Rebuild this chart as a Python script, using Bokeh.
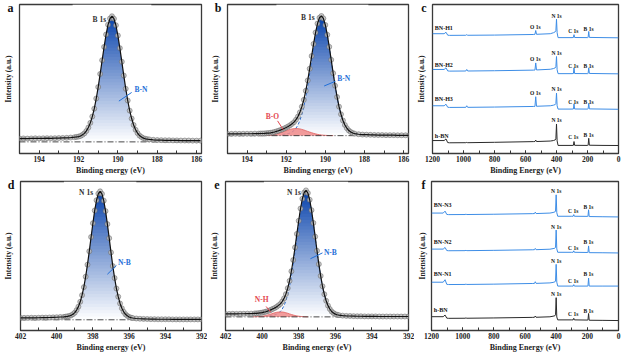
from bokeh.plotting import figure
from bokeh.layouts import row, column
from bokeh.models import Range1d, SingleIntervalTicker, FixedTicker, CustomJSTickFormatter
from bokeh.embed import file_html
from bokeh.resources import INLINE
from bokeh.core.properties import value

FONT = "Liberation Serif"

# ---------------- panel a : B 1s (single B-N component) ----------------
a_pts = [(195.0, 0.027), (194.8, 0.028), (194.6, 0.027), (194.4, 0.028), (194.2, 0.029),
         (194.0, 0.028), (193.8, 0.029), (193.6, 0.030), (193.4, 0.029), (193.2, 0.030),
         (193.0, 0.031), (192.8, 0.032), (192.6, 0.033), (192.4, 0.035), (192.2, 0.038),
         (192.1, 0.040), (192.0, 0.043), (191.9, 0.048), (191.8, 0.057), (191.7, 0.069),
         (191.6, 0.089), (191.5, 0.116), (191.4, 0.154), (191.3, 0.205), (191.2, 0.269),
         (191.1, 0.351), (191.0, 0.444), (190.9, 0.550), (190.8, 0.661), (190.7, 0.769),
         (190.6, 0.869), (190.5, 0.949), (190.4, 0.999), (190.3, 1.017), (190.2, 0.997),
         (190.1, 0.944), (190.0, 0.861), (189.9, 0.759), (189.8, 0.649), (189.7, 0.537),
         (189.6, 0.430), (189.5, 0.335), (189.4, 0.253), (189.3, 0.189), (189.2, 0.137),
         (189.1, 0.098), (189.0, 0.071), (188.9, 0.051), (188.8, 0.039), (188.7, 0.030),
         (188.6, 0.025), (188.5, 0.022), (188.4, 0.020), (188.2, 0.017), (188.0, 0.015),
         (187.8, 0.014), (187.6, 0.013), (187.4, 0.013), (187.2, 0.012), (187.0, 0.012),
         (186.8, 0.011), (186.6, 0.011), (186.4, 0.011), (186.2, 0.010), (186.0, 0.010),
         (185.8, 0.010)]
a_fill_span = (192.0, 188.6)

# ---------------- panel b : B 1s (B-N + B-O) ----------------
b_pts = [(195.0, 0.015), (194.8, 0.015), (194.6, 0.016), (194.4, 0.015), (194.2, 0.016),
         (194.0, 0.016), (193.8, 0.016), (193.6, 0.017), (193.4, 0.017), (193.3, 0.018),
         (193.2, 0.018), (193.1, 0.019), (193.0, 0.021), (192.9, 0.022), (192.8, 0.024),
         (192.7, 0.027), (192.6, 0.031), (192.5, 0.036), (192.4, 0.041), (192.3, 0.047),
         (192.2, 0.053), (192.1, 0.061), (192.0, 0.069), (191.9, 0.078), (191.8, 0.088),
         (191.7, 0.100), (191.6, 0.114), (191.5, 0.135), (191.4, 0.161), (191.3, 0.197),
         (191.2, 0.245), (191.1, 0.303), (191.0, 0.379), (190.9, 0.467), (190.8, 0.566),
         (190.7, 0.673), (190.6, 0.776), (190.5, 0.872), (190.4, 0.948), (190.3, 0.997),
         (190.2, 1.012), (190.1, 0.991), (190.0, 0.936), (189.9, 0.853), (189.8, 0.751),
         (189.7, 0.641), (189.6, 0.528), (189.5, 0.422), (189.4, 0.327), (189.3, 0.245),
         (189.2, 0.181), (189.1, 0.128), (189.0, 0.090), (188.9, 0.063), (188.8, 0.043),
         (188.7, 0.031), (188.6, 0.022), (188.5, 0.017), (188.3, 0.012), (188.1, 0.009),
         (187.9, 0.008), (187.7, 0.007), (187.5, 0.006), (187.3, 0.005), (187.1, 0.005),
         (186.9, 0.004), (186.7, 0.004), (186.5, 0.004), (186.3, 0.003), (186.1, 0.003),
         (185.9, 0.003), (185.7, 0.003)]
b_bn = [(192.2, 0.010), (192.1, 0.012), (192.0, 0.014), (191.9, 0.017), (191.8, 0.022),
        (191.7, 0.031), (191.6, 0.043), (191.5, 0.063), (191.4, 0.090), (191.3, 0.128),
        (191.2, 0.180), (191.1, 0.244), (191.0, 0.326), (190.9, 0.420), (190.8, 0.526),
        (190.7, 0.638), (190.6, 0.747), (190.5, 0.848), (190.4, 0.929), (190.3, 0.981),
        (190.2, 1.000), (190.1, 0.981), (190.0, 0.929), (189.9, 0.848), (189.8, 0.747),
        (189.7, 0.638), (189.6, 0.526), (189.5, 0.420), (189.4, 0.326), (189.3, 0.244),
        (189.2, 0.180), (189.1, 0.128), (189.0, 0.090), (188.9, 0.063), (188.8, 0.043),
        (188.7, 0.031), (188.6, 0.022), (188.5, 0.017), (188.3, 0.012), (188.1, 0.009)]
b_bo = [(193.4, 0.0004), (193.3, 0.0007), (193.2, 0.001), (193.1, 0.0017), (193.0, 0.0026),
        (192.9, 0.004), (192.8, 0.0057), (192.7, 0.008), (192.6, 0.011), (192.5, 0.015),
        (192.4, 0.0195), (192.3, 0.025), (192.2, 0.030), (192.1, 0.036), (192.0, 0.042),
        (191.9, 0.048), (191.8, 0.053), (191.7, 0.057), (191.6, 0.059), (191.5, 0.060),
        (191.4, 0.059), (191.3, 0.057), (191.2, 0.053), (191.1, 0.048), (191.0, 0.042),
        (190.9, 0.036), (190.8, 0.030), (190.7, 0.025), (190.6, 0.0195), (190.5, 0.015),
        (190.4, 0.011), (190.3, 0.008), (190.2, 0.0057), (190.1, 0.004), (190.0, 0.0026),
        (189.9, 0.0017), (189.8, 0.001), (189.7, 0.0007), (189.6, 0.0004)]

# ---------------- panel d : N 1s (single N-B component) ----------------
d_pts = [(402.0, 0.015), (401.8, 0.015), (401.6, 0.015), (401.4, 0.016), (401.2, 0.015),
         (401.0, 0.016), (400.8, 0.017), (400.6, 0.017), (400.4, 0.018), (400.2, 0.019),
         (400.0, 0.020), (399.8, 0.022), (399.6, 0.023), (399.5, 0.025), (399.4, 0.027),
         (399.3, 0.030), (399.2, 0.035), (399.1, 0.044), (399.0, 0.056), (398.9, 0.076),
         (398.8, 0.103), (398.7, 0.141), (398.6, 0.193), (398.5, 0.256), (398.4, 0.338),
         (398.3, 0.432), (398.2, 0.537), (398.1, 0.649), (398.0, 0.757), (397.9, 0.857),
         (397.8, 0.937), (397.7, 0.989), (397.6, 1.007), (397.5, 0.987), (397.4, 0.934),
         (397.3, 0.852), (397.2, 0.750), (397.1, 0.640), (397.0, 0.528), (396.9, 0.421),
         (396.8, 0.327), (396.7, 0.245), (396.6, 0.181), (396.5, 0.128), (396.4, 0.090),
         (396.3, 0.063), (396.2, 0.043), (396.1, 0.031), (396.0, 0.022), (395.9, 0.017),
         (395.8, 0.014), (395.6, 0.010), (395.4, 0.008), (395.2, 0.007), (395.0, 0.006),
         (394.8, 0.005), (394.6, 0.005), (394.4, 0.004), (394.2, 0.004), (394.0, 0.004),
         (393.8, 0.004), (393.6, 0.003), (393.4, 0.003), (393.2, 0.003), (393.0, 0.003),
         (392.8, 0.003), (392.6, 0.003), (392.4, 0.003), (392.2, 0.003), (392.0, 0.003)]
d_fill_span = (399.3, 395.9)

# ---------------- panel e : N 1s (N-B + N-H) ----------------
e_pts = [(402.0, 0.024), (401.8, 0.024), (401.6, 0.025), (401.4, 0.024), (401.2, 0.025),
         (401.0, 0.025), (400.8, 0.026), (400.6, 0.026), (400.4, 0.028), (400.3, 0.028),
         (400.2, 0.030), (400.1, 0.032), (400.0, 0.034), (399.9, 0.038), (399.8, 0.041),
         (399.7, 0.046), (399.6, 0.051), (399.5, 0.058), (399.4, 0.065), (399.3, 0.072),
         (399.2, 0.081), (399.1, 0.092), (399.0, 0.104), (398.9, 0.123), (398.8, 0.148),
         (398.7, 0.182), (398.6, 0.230), (398.5, 0.288), (398.4, 0.365), (398.3, 0.455),
         (398.2, 0.556), (398.1, 0.664), (398.0, 0.769), (397.9, 0.867), (397.8, 0.945),
         (397.7, 0.995), (397.6, 1.012), (397.5, 0.991), (397.4, 0.937), (397.3, 0.854),
         (397.2, 0.752), (397.1, 0.642), (397.0, 0.529), (396.9, 0.422), (396.8, 0.328),
         (396.7, 0.245), (396.6, 0.181), (396.5, 0.129), (396.4, 0.090), (396.3, 0.063),
         (396.2, 0.043), (396.1, 0.031), (396.0, 0.022), (395.9, 0.017), (395.8, 0.014),
         (395.6, 0.010), (395.4, 0.008), (395.2, 0.007), (395.0, 0.006), (394.8, 0.005),
         (394.6, 0.005), (394.4, 0.004), (394.2, 0.004), (394.0, 0.004), (393.8, 0.004),
         (393.6, 0.003), (393.4, 0.003), (393.2, 0.003), (393.0, 0.003), (392.8, 0.003),
         (392.6, 0.003), (392.4, 0.003), (392.2, 0.003), (392.0, 0.003)]
e_nb = [(399.6, 0.010), (399.5, 0.012), (399.4, 0.014), (399.3, 0.017), (399.2, 0.022),
        (399.1, 0.031), (399.0, 0.043), (398.9, 0.063), (398.8, 0.090), (398.7, 0.128),
        (398.6, 0.180), (398.5, 0.244), (398.4, 0.326), (398.3, 0.420), (398.2, 0.526),
        (398.1, 0.638), (398.0, 0.747), (397.9, 0.848), (397.8, 0.929), (397.7, 0.981),
        (397.6, 1.000), (397.5, 0.981), (397.4, 0.929), (397.3, 0.848), (397.2, 0.747),
        (397.1, 0.638), (397.0, 0.526), (396.9, 0.420), (396.8, 0.326), (396.7, 0.244),
        (396.6, 0.180), (396.5, 0.128), (396.4, 0.090), (396.3, 0.063), (396.2, 0.043),
        (396.1, 0.031), (396.0, 0.022), (395.9, 0.017), (395.8, 0.014), (395.6, 0.010)]
e_nh = [(400.5, 0.0004), (400.4, 0.0008), (400.3, 0.0014), (400.2, 0.0022), (400.1, 0.0036),
        (400.0, 0.0054), (399.9, 0.008), (399.8, 0.011), (399.7, 0.015), (399.6, 0.019),
        (399.5, 0.024), (399.4, 0.029), (399.3, 0.033), (399.2, 0.037), (399.1, 0.039),
        (399.0, 0.040), (398.9, 0.039), (398.8, 0.037), (398.7, 0.033), (398.6, 0.029),
        (398.5, 0.024), (398.4, 0.019), (398.3, 0.015), (398.2, 0.011), (398.1, 0.008),
        (398.0, 0.0054), (397.9, 0.0036), (397.8, 0.0022), (397.7, 0.0014), (397.6, 0.0008),
        (397.5, 0.0004)]

# ---------------- survey spectra (panels c and f) ----------------
survey_x = [1200, 1125, 1113, 1102, 1090, 985, 979, 973, 800, 550, 539, 534, 529, 440, 420,
            408, 404, 400, 396, 390, 300, 291, 287, 283, 200, 196, 192, 188, 100, 0]
c_names = ["BN-H1", "BN-H2", "BN-H3", "h-BN"]
c_bnh1 = [123.0, 123.0, 124.5, 121.5, 121.3, 121.4, 122.0, 121.4, 121.6, 122.2, 122.4, 126.3,
          122.4, 123.0, 124.0, 125.0, 126.0, 138.0, 124.0, 119.0, 119.0, 119.1, 122.0, 119.1,
          119.0, 119.2, 125.3, 119.2, 119.0, 118.8]
c_bnh2 = [86.3, 86.3, 88.0, 84.8, 84.6, 84.7, 86.3, 84.7, 85.0, 85.6, 85.7, 93.0, 85.8, 86.5,
          87.2, 88.0, 89.0, 99.6, 86.0, 82.0, 82.0, 82.1, 88.0, 82.1, 82.0, 82.2, 88.0, 82.2,
          82.0, 81.8]
c_bnh3 = [49.0, 49.0, 50.6, 47.5, 47.3, 47.4, 49.0, 47.4, 47.7, 48.3, 48.4, 58.3, 48.5, 49.0,
          49.6, 50.3, 51.2, 62.0, 49.0, 45.6, 45.6, 45.7, 51.0, 45.7, 45.6, 45.8, 51.6, 45.8,
          45.6, 45.4]
c_hbn = [13.3, 13.3, 15.0, 11.2, 11.0, 11.1, 11.4, 11.1, 11.5, 12.2, 12.3, 13.8, 12.3, 12.8,
         13.3, 14.0, 15.0, 30.3, 13.0, 8.3, 8.3, 8.4, 12.3, 8.4, 8.3, 8.5, 15.6, 8.5, 8.3, 8.2]
c_name_y = [128.6, 91.3, 55.6, 18.3]
c_peak_text = ["O 1s"] * 3 + ["N 1s"] * 4 + ["C 1s"] * 4 + ["B 1s"] * 4
c_peak_x = [537] * 3 + [400] * 4 + [291] * 4 + [193] * 4
c_peak_y = [130.3, 97.0, 62.3, 141.5, 103.0, 66.5, 34.0, 126.3, 90.3, 53.3, 16.6,
            128.0, 90.3, 53.3, 19.0]

f_names = ["BN-N3", "BN-N2", "BN-N1", "h-BN"]
f_bnn3 = [121.6, 121.6, 123.6, 120.2, 120.0, 120.1, 120.4, 120.1, 120.4, 121.0, 121.1, 122.6,
          121.1, 121.6, 122.2, 122.8, 123.6, 140.5, 122.0, 118.3, 118.3, 118.3, 120.0, 118.3,
          118.2, 118.2, 125.0, 118.0, 117.8, 117.6]
f_bnn2 = [84.3, 84.3, 86.0, 82.8, 82.6, 82.7, 83.0, 82.7, 83.0, 83.6, 83.7, 85.0, 83.7, 84.2,
          84.8, 85.3, 86.0, 104.0, 84.5, 81.0, 81.0, 81.0, 82.5, 81.0, 80.8, 80.8, 87.6, 80.6,
          80.5, 80.3]
f_bnn1 = [50.0, 50.0, 52.6, 47.8, 47.6, 47.7, 48.0, 47.7, 48.0, 48.7, 48.8, 50.5, 48.8, 49.3,
          49.8, 50.4, 51.2, 68.5, 50.0, 46.0, 46.0, 46.0, 47.5, 46.0, 46.0, 46.0, 54.3, 46.0,
          46.0, 46.0]
f_hbn = [14.3, 14.3, 16.0, 12.8, 12.6, 12.7, 13.0, 12.7, 13.0, 13.6, 13.7, 15.0, 13.7, 14.2,
         14.8, 15.3, 16.2, 34.0, 14.0, 11.0, 11.0, 11.0, 12.6, 11.0, 10.8, 10.8, 17.6, 10.6,
         10.5, 10.3]
f_name_y = [130.0, 92.0, 58.3, 21.0]
f_peak_text = ["N 1s"] * 4 + ["C 1s"] * 4 + ["B 1s"] * 4
f_peak_x = [400] * 4 + [291] * 4 + [193] * 4
f_peak_y = [144.0, 107.5, 72.0, 37.5, 124.0, 85.6, 51.3, 17.3, 128.0, 91.3, 58.0, 20.6]

# ---------------- styles ----------------
BLUE_TOP = (10, 68, 172)
LINE_BLUE = "#3d8de6"
LINE_BLACK = "#2a2a2a"
LABEL_BLUE = "#1f6fd8"
LABEL_RED = "#e4474f"
H = 177
TOP = 4
BOTTOM = 24
FRAME_H = H - TOP - BOTTOM


def make_fig(xr, yr, width, left, right, xlabel, interval, letter):
    p = figure(width=width, height=H, x_range=Range1d(*xr), y_range=Range1d(*yr),
               output_backend="svg", toolbar_location=None, tools="",
               min_border_left=left, min_border_right=right,
               min_border_top=TOP, min_border_bottom=BOTTOM)
    p.xgrid.visible = False
    p.ygrid.visible = False
    p.outline_line_color = "#3a3a3a"
    p.outline_line_width = 1.3
    p.background_fill_color = "white"
    p.border_fill_color = "white"
    xa = p.xaxis[0]
    xa.ticker = SingleIntervalTicker(interval=interval, num_minor_ticks=2)
    xa.axis_line_color = None
    xa.major_tick_in = 3
    xa.major_tick_out = 0
    xa.minor_tick_in = 3
    xa.minor_tick_out = 0
    xa.major_tick_line_color = "#333333"
    xa.minor_tick_line_color = "#333333"
    xa.major_label_text_font = FONT
    xa.major_label_text_font_style = "bold"
    xa.major_label_text_font_size = "7.5px"
    xa.major_label_text_color = "#222222"
    xa.major_label_standoff = 2
    xa.axis_label = xlabel
    xa.axis_label_text_font = FONT
    xa.axis_label_text_font_style = "bold"
    xa.axis_label_text_font_size = "8px"
    xa.axis_label_text_color = "#222222"
    xa.axis_label_standoff = 1
    # y axis: no ticks; its single "tick label" near the top is the panel letter
    ya = p.yaxis[0]
    letter_y = yr[1] - 3.0 / FRAME_H * (yr[1] - yr[0])
    ya.ticker = FixedTicker(ticks=[letter_y])
    ya.formatter = CustomJSTickFormatter(code="return %r;" % letter)
    ya.axis_line_color = None
    ya.major_tick_line_color = None
    ya.minor_tick_line_color = None
    ya.major_tick_in = 0
    ya.major_tick_out = 0
    ya.major_label_standoff = 6
    ya.major_label_text_font = FONT
    ya.major_label_text_font_style = "bold"
    ya.major_label_text_font_size = "12px"
    ya.major_label_text_color = "#111111"
    ya.axis_label = "Intensity (a.u.)"
    ya.axis_label_text_font = FONT
    ya.axis_label_text_font_style = "bold"
    ya.axis_label_text_font_size = "7.5px"
    ya.axis_label_text_color = "#222222"
    ya.axis_label_standoff = -8
    return p


def split(pts):
    return [q[0] for q in pts], [q[1] for q in pts]


def gradient_fill(p, xs, ys, ytop, n=40):
    # vertical white -> blue gradient under the curve: stacked colour bands,
    # then a white mask above the curve (mask reaches a little past the band edges)
    ymax = max(ys)
    L, R, B, T, C = [], [], [], [], []
    step = ymax / n
    for k in range(n):
        f = (k + 0.5) / n
        col = "#%02x%02x%02x" % tuple(int(round(255 + (c - 255) * f)) for c in BLUE_TOP)
        L.append(xs[0]); R.append(xs[-1])
        B.append(step * k); T.append(min(step * (k + 1.6), ymax))
        C.append(col)
    p.quad(left=L, right=R, bottom=B, top=T, fill_color=C, line_color=None)
    pad = 0.3 if xs[0] > xs[-1] else -0.3
    mx = [xs[0] + pad] + list(xs) + [xs[-1] - pad]
    my = [ys[0]] + list(ys) + [ys[-1]]
    p.varea(x=mx, y1=my, y2=[ytop] * len(mx), fill_color="white")


def hr_panel(p, pts, xr, yr, fill_span=None, comp=None, minor=None):
    xs, ys = split(pts)
    if comp is None:
        lo, hi = min(fill_span) - 1e-6, max(fill_span) + 1e-6
        fx = [x for x in xs if lo <= x <= hi]
        fy = [y for x, y in zip(xs, ys) if lo <= x <= hi]
    else:
        fx, fy = split(comp)
    gradient_fill(p, fx, fy, yr[1])
    if comp is not None:
        p.line(fx, fy, line_color="#2f6fd0", line_width=1, line_dash="3 2")
    if minor is not None:
        mx, my = split(minor)
        p.varea(x=mx, y1=[0] * len(mx), y2=my, fill_color="#f08a8a", fill_alpha=0.85)
        p.line(mx, my, line_color="#e06060", line_width=0.8)
    p.line([xr[0], xr[1]], [0, 0], line_color="#333333", line_width=0.9, line_dash="6 2 1 2")
    p.scatter(xs, ys, marker="circle", size=5, fill_color="#bdbdbd", line_color="#5a5a5a",
              line_width=0.6, alpha=0.8)
    p.line(xs, ys, line_color="#111111", line_width=1.2)


def txt(p, x, y, t, color="#333333", align="left", size="7.5px"):
    p.text(x=[x], y=[y], text=[t], text_color=color, text_align=align, text_baseline="middle",
           text_font=value(FONT), text_font_style="bold", text_font_size=size)


xr_ab = (195, 185.75)
xr_de = (402, 392)
xr_cf = (1200, 0)

# ---- panel a ----
yr_a = (-0.094, 1.112)
pa = make_fig(xr_ab, yr_a, 207, 13, 6, "Binding energy (eV)", 2, "a")
hr_panel(pa, a_pts, xr_ab, yr_a, fill_span=a_fill_span)
txt(pa, 190.6, 0.99, "B 1s", align="right")
txt(pa, 189.15, 0.42, "B-N", color=LABEL_BLUE)
pa.line([189.95, 189.3], [0.33, 0.40], line_color=LABEL_BLUE, line_width=1)

# ---- panel b ----
yr_b = (-0.151, 1.109)
pb = make_fig(xr_ab, yr_b, 207, 13, 6, "Binding energy (eV)", 2, "b")
hr_panel(pb, b_pts, xr_ab, yr_b, comp=b_bn, minor=b_bo)
txt(pb, 190.55, 1.0, "B 1s", align="right")
txt(pb, 189.39, 0.486, "B-N", color=LABEL_BLUE)
pb.line([190.06, 189.48], [0.42, 0.46], line_color=LABEL_BLUE, line_width=1)
txt(pb, 192.7, 0.166, "B-O", color=LABEL_RED, align="center")
pb.line([192.44, 192.15], [0.125, 0.05], line_color=LABEL_RED, line_width=1)

# ---- panel d ----
yr_d = (-0.084, 1.084)
pd_ = make_fig(xr_de, yr_d, 207, 13, 6, "Binding energy (eV)", 2, "d")
hr_panel(pd_, d_pts, xr_de, yr_d, fill_span=d_fill_span)
txt(pd_, 397.99, 1.0, "N 1s", align="right")
txt(pd_, 396.62, 0.449, "N-B", color=LABEL_BLUE)
pd_.line([397.2, 396.7], [0.357, 0.426], line_color=LABEL_BLUE, line_width=1)

# ---- panel e ----
yr_e = (-0.109, 1.083)
pe = make_fig(xr_de, yr_e, 207, 13, 6, "Binding energy (eV)", 2, "e")
hr_panel(pe, e_pts, xr_de, yr_e, comp=e_nb, minor=e_nh)
txt(pe, 397.88, 0.993, "N 1s", align="right")
txt(pe, 396.62, 0.519, "N-B", color=LABEL_BLUE)
pe.line([397.36, 396.7], [0.465, 0.512], line_color=LABEL_BLUE, line_width=1)
txt(pe, 400.02, 0.138, "N-H", color=LABEL_RED, align="center")
pe.line([399.78, 399.52], [0.083, 0.037], line_color=LABEL_RED, line_width=1)


# ---- survey panels ----
def survey(p, series, colors, names, name_y, ptext, px, py):
    for ys, col in zip(series, colors):
        p.line(survey_x, ys, line_color=col, line_width=1)
    p.text(x=[1185] * len(names), y=name_y, text=names, text_color="#111111",
           text_align="left", text_baseline="middle", text_font=value(FONT),
           text_font_style="bold", text_font_size="6px")
    p.text(x=px, y=py, text=ptext, text_color="#111111", text_align="center",
           text_baseline="middle", text_font=value(FONT), text_font_style="bold",
           text_font_size="5.5px")


yr_c = (0, 153)
pc = make_fig(xr_cf, yr_c, 207, 16, 3, "Binding Energy (eV)", 200, "c")
survey(pc, [c_bnh1, c_bnh2, c_bnh3, c_hbn], [LINE_BLUE, LINE_BLUE, LINE_BLUE, LINE_BLACK],
       c_names, c_name_y, c_peak_text, c_peak_x, c_peak_y)

yr_f = (0, 154.3)
pf = make_fig(xr_cf, yr_f, 207, 16, 3, "Binding Energy (eV)", 200, "f")
survey(pf, [f_bnn3, f_bnn2, f_bnn1, f_hbn], [LINE_BLUE, LINE_BLUE, LINE_BLUE, LINE_BLACK],
       f_names, f_name_y, f_peak_text, f_peak_x, f_peak_y)

layout = column(row(pa, pb, pc), row(pd_, pe, pf))
open("out.html", "w").write(file_html(layout, INLINE))
